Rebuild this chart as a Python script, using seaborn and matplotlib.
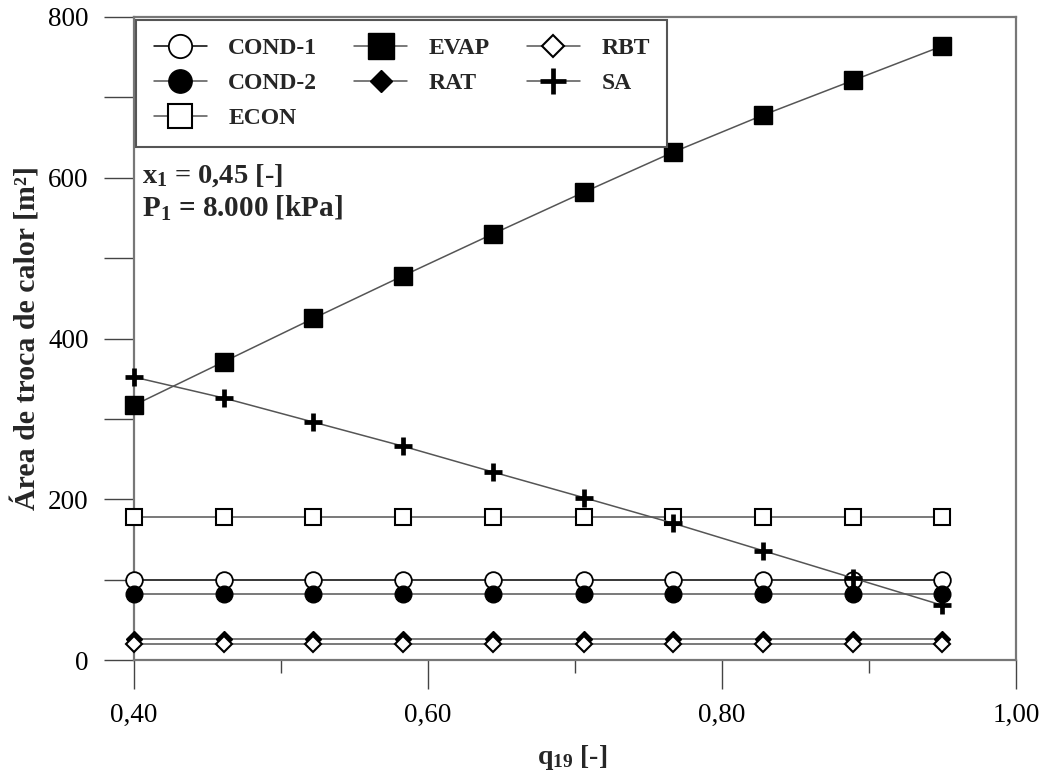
import numpy as np
import matplotlib
matplotlib.use("Agg")
import matplotlib.pyplot as plt
import seaborn as sns
from matplotlib.ticker import MultipleLocator, FuncFormatter

# Vapour quality at the separator inlet
q19 = [0.40, 0.461, 0.522, 0.583, 0.644, 0.706, 0.767, 0.828, 0.889, 0.95]

# Heat-exchange area of each component [m²]
cond1 = [100, 100, 100, 100, 100, 100, 100, 100, 100, 100]
cond2 = [82, 82, 82, 82, 82, 82, 82, 82, 82, 82]
econ = [178, 178, 178, 178, 178, 178, 178, 178, 178, 178]
evap = [317, 371, 425, 478, 530, 582, 632, 678, 721, 764]
rat = [26, 26, 26, 26, 26, 26, 26, 26, 26, 26]
rbt = [20, 20, 20, 20, 20, 20, 20, 20, 20, 20]
sa = [352, 326, 296, 266, 234, 202, 170, 136, 102, 68]

y_ticks = [0, 200, 400, 600, 800]
x_ticks = [0.40, 0.60, 0.80, 1.00]

sns.set_theme(style="ticks")
plt.rcParams["font.family"] = ["Liberation Serif", "DejaVu Serif"]
plt.rcParams["mathtext.fontset"] = "custom"
plt.rcParams["mathtext.rm"] = "Liberation Serif:bold"
plt.rcParams["mathtext.bf"] = "Liberation Serif:bold"
plt.rcParams["mathtext.it"] = "Liberation Serif:bold"

fig, ax = plt.subplots(figsize=(10.46, 7.75), dpi=100)
fig.subplots_adjust(left=134 / 1046, right=1016 / 1046,
                    top=1 - 17 / 775, bottom=1 - 660 / 775)

series = [
    ("COND-1", cond1, dict(marker="o", markersize=12, markerfacecolor="white",
                           markeredgecolor="black", markeredgewidth=1.3, color="black")),
    ("COND-2", cond2, dict(marker="o", markersize=12, markerfacecolor="black",
                           markeredgecolor="black", markeredgewidth=1.0, color="#555555")),
    ("ECON", econ, dict(marker="s", markersize=12, markerfacecolor="white",
                        markeredgecolor="black", markeredgewidth=1.5, color="#555555")),
    ("EVAP", evap, dict(marker="s", markersize=13, markerfacecolor="black",
                        markeredgecolor="black", markeredgewidth=1.0, color="#555555")),
    ("RAT", rat, dict(marker="D", markersize=8, markerfacecolor="black",
                      markeredgecolor="black", markeredgewidth=1.0, color="#555555")),
    ("RBT", rbt, dict(marker="D", markersize=8, markerfacecolor="white",
                      markeredgecolor="black", markeredgewidth=1.5, color="#555555")),
    ("SA", sa, dict(marker="+", markersize=13, markerfacecolor="black",
                    markeredgecolor="black", markeredgewidth=3.4, color="#555555")),
]

for name, values, style in series:
    sns.lineplot(x=q19, y=values, ax=ax, label=name, linewidth=1.1,
                 clip_on=False, zorder=3, **style)

ax.set_xlim(0.40, 1.00)
ax.set_ylim(0, 800)
ax.set_xticks(x_ticks)
ax.set_yticks(y_ticks)
ax.xaxis.set_minor_locator(MultipleLocator(0.10))
ax.yaxis.set_minor_locator(MultipleLocator(100))
ax.xaxis.set_major_formatter(FuncFormatter(lambda v, p: f"{v:.2f}".replace(".", ",")))
ax.yaxis.set_major_formatter(FuncFormatter(lambda v, p: f"{v:.0f}"))

ax.tick_params(axis="y", which="both", direction="out", length=21.6, width=1.0,
               color="#444444", labelsize=19.5, pad=11, labelcolor="black")
ax.tick_params(axis="x", which="major", direction="out", length=21, width=1.0,
               color="#444444", labelsize=19.5, pad=10, labelcolor="black")
ax.tick_params(axis="x", which="minor", direction="out", length=9.4, width=1.0,
               color="#444444")

for sp in ax.spines.values():
    sp.set_color("#777777")
    sp.set_linewidth(1.6)

ax.set_xlabel("q$_{19}$ [-]", fontsize=20, fontweight="bold", va="center")
ax.xaxis.set_label_coords(0.497, -0.152)
ax.set_ylabel("Área de troca de calor [m²]", fontsize=21.5, fontweight="bold", va="center")
ax.yaxis.set_label_coords(-0.121, 0.5)

ax.text(0.009, 0.7418, "x$_1$ = 0,45 [-]", transform=ax.transAxes,
        fontsize=20.5, fontweight="bold", va="baseline", ha="left")
ax.text(0.009, 0.6890, "P$_1$ = 8.000 [kPa]", transform=ax.transAxes,
        fontsize=21, fontweight="bold", va="baseline", ha="left")

handles, labels = ax.get_legend_handles_labels()
leg = ax.legend(handles, labels, ncol=3, loc="upper left",
                bbox_to_anchor=(0.0023, 0.9953), borderaxespad=0,
                prop={"family": "Liberation Serif", "weight": "bold", "size": 17},
                handlelength=2.25, handletextpad=0.9, columnspacing=1.57,
                borderpad=0.75, labelspacing=0.57, markerscale=1.4,
                frameon=True, fancybox=False, framealpha=1.0)
leg.get_frame().set_edgecolor("#555555")
leg.get_frame().set_linewidth(1.5)
leg.set_zorder(5)

fig.savefig("out.png", dpi=100)
